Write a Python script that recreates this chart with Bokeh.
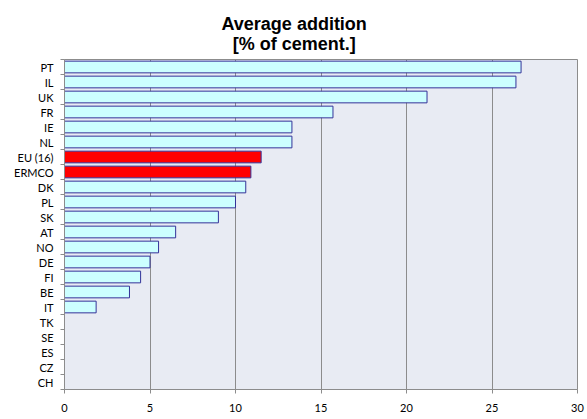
import numpy as np
from bokeh.plotting import figure
from bokeh.models import FixedTicker, ColumnDataSource, Range1d, Title, LinearAxis
from bokeh.embed import file_html
from bokeh.resources import INLINE

# Categories listed top to bottom
categories = ["PT", "IL", "UK", "FR", "IE", "NL", "EU (16)", "ERMCO", "DK", "PL", "SK",
              "AT", "NO", "DE", "FI", "BE", "IT", "TK", "SE", "ES", "CZ", "CH"]
values = [26.7, 26.4, 21.2, 15.7, 13.3, 13.3, 11.5, 10.9, 10.6, 10.0, 9.0,
          6.5, 5.5, 5.0, 4.45, 3.8, 1.85, 0, 0, 0, 0, 0]
highlight = ["EU (16)", "ERMCO"]
x_ticks = [0, 5, 10, 15, 20, 25, 30]
title_lines = ["Average addition", "[% of cement.]"]

n = len(categories)
ypos = [n - 1 - i for i in range(n)]
colors = ["#FF0000" if c in highlight else "#CCFFFF" for c in categories]

src = ColumnDataSource(dict(y=ypos, right=values, color=colors, cat=categories))

FW, FH = 513, 330
p = figure(frame_width=FW, frame_height=FH, output_backend="svg", toolbar_location=None,
           x_range=Range1d(0, 30), y_range=Range1d(-0.5, n - 0.5),
           min_border_left=64, min_border_right=8, min_border_top=59, min_border_bottom=26)

p.hbar(y="y", left=0, right="right", height=0.78, source=src,
       fill_color="color", line_color="#333399", line_width=1)

p.background_fill_color = "#E8EBF3"
p.border_fill_color = "white"
p.outline_line_color = "#8C8C8C"
p.outline_line_width = 1

p.xgrid.ticker = FixedTicker(ticks=x_ticks)
p.xgrid.grid_line_color = "#8C8C8C"
p.xgrid.grid_line_width = 1
p.ygrid.grid_line_color = None

p.xaxis.ticker = FixedTicker(ticks=x_ticks)
p.xaxis.axis_line_color = "#8C8C8C"
p.xaxis.major_tick_line_color = "#8C8C8C"
p.xaxis.major_tick_out = 4
p.xaxis.major_tick_in = 0
p.xaxis.minor_tick_line_color = None
p.xaxis.major_label_text_font = "Lato"
p.xaxis.major_label_text_font_size = "11px"
p.xaxis.major_label_text_color = "black"
p.xaxis.major_label_standoff = 10

p.yaxis.ticker = FixedTicker(ticks=ypos, minor_ticks=[v + 0.5 for v in range(-1, n)])
p.yaxis.major_label_overrides = {yv: c for yv, c in zip(ypos, categories)}
p.yaxis.axis_line_color = "#8C8C8C"
p.yaxis.major_tick_line_color = None
p.yaxis.major_tick_out = 0
p.yaxis.major_tick_in = 0
p.yaxis.minor_tick_line_color = "#8C8C8C"
p.yaxis.minor_tick_out = 4
p.yaxis.minor_tick_in = 0
p.yaxis.major_label_text_font = "Lato"
p.yaxis.major_label_text_font_size = "11px"
p.yaxis.major_label_text_color = "black"
p.yaxis.major_label_standoff = 7

# invisible spacer axis above the frame (no ticks drawn), pushes the title up
spacer = LinearAxis(ticker=FixedTicker(ticks=[]), axis_line_color=None,
                    major_tick_line_color="white", minor_tick_line_color=None,
                    major_tick_out=8, major_tick_in=0, major_label_text_font_size="0px")
p.add_layout(spacer, "above")

t = Title(text="\n".join(title_lines), align="left", offset=157, standoff=12,
          text_font="Liberation Sans", text_font_size="18px", text_font_style="bold",
          text_color="black", text_line_height=1.0)
try:
    t.text_align = "center"
except Exception:
    pass
p.title = t

open("out.html", "w").write(file_html(p, INLINE))
